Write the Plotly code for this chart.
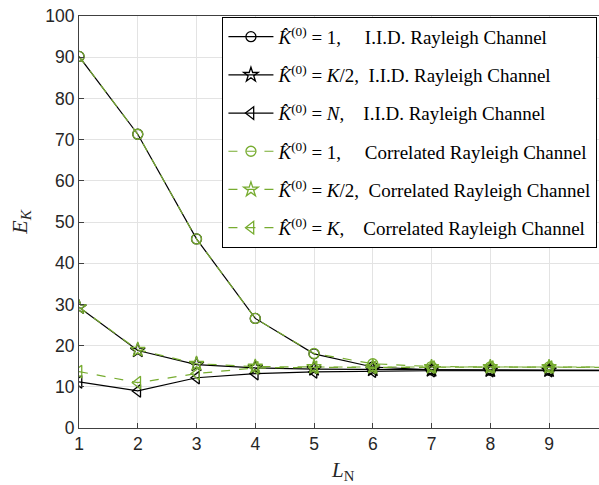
import plotly.graph_objects as go

x_vals = [1, 2, 3, 4, 5, 6, 7, 8, 9, 10]
iid_k1 = [90.2, 71.3, 45.9, 26.6, 18.0, 14.8, 14.1, 14.0, 14.0, 14.0]
iid_half = [29.3, 18.8, 15.4, 14.6, 14.3, 14.2, 14.1, 14.0, 14.0, 14.0]
iid_n = [11.2, 9.0, 12.2, 13.2, 13.6, 13.8, 13.9, 13.9, 13.9, 13.9]
corr_k1 = [90.2, 71.3, 45.9, 26.6, 18.1, 15.6, 14.9, 14.8, 14.8, 14.7]
corr_half = [29.3, 19.0, 15.6, 14.9, 14.8, 14.8, 14.8, 14.8, 14.8, 14.8]
corr_k = [13.7, 11.0, 13.2, 14.6, 14.7, 14.7, 14.8, 14.8, 14.8, 14.8]

x_ticks = [1, 2, 3, 4, 5, 6, 7, 8, 9]
y_ticks = [0, 10, 20, 30, 40, 50, 60, 70, 80, 90, 100]

KH = "<i>K\u0302</i><sup>(0)</sup>"
sp = "\u00a0"
names = [
    f"{KH} = 1,{sp*5}I.I.D. Rayleigh Channel",
    f"{KH} = <i>K</i>/2,{sp*2}I.I.D. Rayleigh Channel",
    f"{KH} = <i>N</i>,{sp*4}I.I.D. Rayleigh Channel",
    f"{KH} = 1,{sp*5}Correlated Rayleigh Channel",
    f"{KH} = <i>K</i>/2,{sp*2}Correlated Rayleigh Channel",
    f"{KH} = <i>K</i>,{sp*4}Correlated Rayleigh Channel",
]

BLACK = "#000000"
GREEN = "#77AC30"

series = [
    (iid_k1, names[0], BLACK, "solid", "circle-open", 10),
    (iid_half, names[1], BLACK, "solid", "star-open", 11),
    (iid_n, names[2], BLACK, "solid", "triangle-left-open", 11),
    (corr_k1, names[3], GREEN, "dash", "circle-open", 10),
    (corr_half, names[4], GREEN, "dash", "star-open", 11),
    (corr_k, names[5], GREEN, "dash", "triangle-left-open", 11),
]

fig = go.Figure()
for i, (ys, nm, col, dash, sym, sz) in enumerate(series):
    fig.add_trace(go.Scatter(
        x=x_vals, y=ys, name=nm, mode="lines+markers",
        line=dict(color=col, width=1.2, dash=dash),
        marker=dict(symbol=sym, size=sz, color=col, line=dict(color=col, width=1.3)),
        legendgroup=f"g{i}",
    ))

fig.update_layout(
    width=599, height=485,
    margin=dict(l=79, r=0, t=16, b=57),
    paper_bgcolor="white", plot_bgcolor="white",
    font=dict(family="Liberation Sans, Arial, sans-serif", color="#262626"),
    showlegend=True,
    legend=dict(
        x=0.997, y=0.998, xanchor="right", yanchor="top",
        bgcolor="white", bordercolor="#000000", borderwidth=1,
        font=dict(family="Liberation Serif, DejaVu Serif, serif", size=19, color="#000000"),
        tracegroupgap=10.5, itemwidth=45,
    ),
    xaxis=dict(
        range=[1, 9.85], tickvals=x_ticks, ticktext=[str(v) for v in x_ticks],
        showgrid=True, gridcolor="#e3e3e3", gridwidth=1,
        showline=True, linecolor="#404040", linewidth=1, mirror=True,
        ticks="inside", ticklen=5, tickcolor="#404040",
        tickfont=dict(size=17.5, color="#262626"), zeroline=False,
    ),
    yaxis=dict(
        range=[0, 100], tickvals=y_ticks, ticktext=[str(v) for v in y_ticks],
        showgrid=True, gridcolor="#e3e3e3", gridwidth=1,
        showline=True, linecolor="#404040", linewidth=1, mirror=True,
        ticks="inside", ticklen=5, tickcolor="#404040",
        tickfont=dict(size=17.5, color="#262626"), zeroline=False,
    ),
    annotations=[
        dict(text="<i>L</i><sub>N</sub>", xref="paper", yref="paper",
             x=(343 - 79) / 520, y=-0.105, xanchor="center", yanchor="middle",
             showarrow=False, font=dict(family="Liberation Serif, DejaVu Serif, serif", size=21, color="#262626")),
        dict(text="<i>E</i><sub><i>K</i></sub>", xref="paper", yref="paper",
             x=-0.112, y=0.5, xanchor="center", yanchor="middle", textangle=-90,
             showarrow=False, font=dict(family="Liberation Serif, DejaVu Serif, serif", size=22, color="#262626")),
    ],
)

fig.write_html("out.html")
